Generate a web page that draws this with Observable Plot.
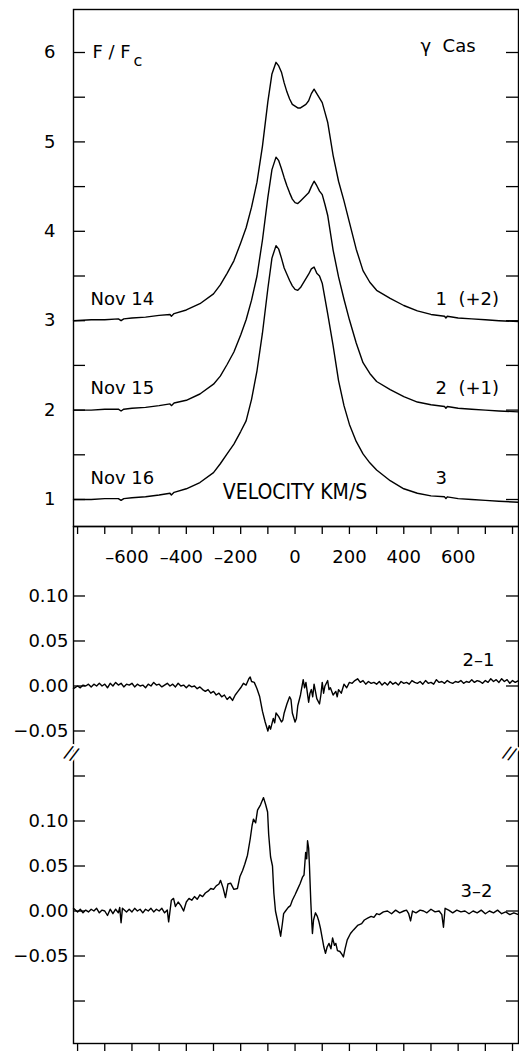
<!DOCTYPE html>
<html>
<head>
<meta charset="utf-8">
<script src="https://cdn.jsdelivr.net/npm/d3@7"></script>
<script src="https://cdn.jsdelivr.net/npm/@observablehq/plot@0.6"></script>
<style>
html, body { margin: 0; padding: 0; background: #fff; }
#wrap { position: relative; width: 519px; height: 1051px; overflow: hidden; background: #fff; }
#top, #bottom { position: absolute; left: 0; }
#top { top: 0; }
#bottom { top: 517px; }
svg { overflow: visible; }
</style>
</head>
<body>
<div id="wrap"><div id="top"></div><div id="bottom"></div></div>
<script>
// ---------- data ----------
const velocity = [-815,-750,-700,-650,-640,-630,-600,-550,-500,-460,
  -455,-445,-400,-350,-300,-275,-250,-225,-200,-180,
  -160,-140,-120,-100,-85,-70,-60,-50,-40,-30,
  -20,-10,0,10,20,30,40,50,60,70,
  80,90,100,110,120,140,160,180,200,225,
  250,275,300,350,400,450,500,550,555,560,
  600,650,700,750,822];

const nov14 = [1.00,1.01,1.01,1.02,1.00,1.02,1.03,1.04,1.06,1.07,
  1.05,1.08,1.12,1.19,1.30,1.40,1.53,1.67,1.87,2.04,
  2.27,2.55,2.95,3.45,3.76,3.89,3.85,3.78,3.66,3.56,
  3.48,3.42,3.40,3.38,3.38,3.40,3.42,3.46,3.54,3.59,
  3.54,3.49,3.44,3.33,3.22,2.85,2.56,2.34,2.10,1.80,
  1.56,1.43,1.34,1.25,1.17,1.11,1.07,1.05,1.03,1.05,
  1.03,1.02,1.01,1.00,0.99];

const nov15 = [1.00,1.00,1.01,1.01,0.99,1.01,1.02,1.03,1.05,1.07,
  1.05,1.08,1.11,1.18,1.29,1.38,1.51,1.65,1.84,2.01,
  2.23,2.50,2.90,3.38,3.69,3.83,3.79,3.70,3.60,3.51,
  3.43,3.36,3.32,3.31,3.34,3.37,3.40,3.43,3.50,3.56,
  3.51,3.45,3.41,3.30,3.18,2.79,2.49,2.24,2.01,1.75,
  1.53,1.41,1.32,1.23,1.15,1.09,1.06,1.04,1.02,1.04,
  1.02,1.01,1.00,0.99,0.98];

const nov16 = [1.00,1.00,1.01,1.01,0.99,1.01,1.02,1.03,1.05,1.07,
  1.05,1.08,1.12,1.19,1.30,1.40,1.51,1.62,1.76,1.88,
  2.12,2.44,2.86,3.36,3.70,3.84,3.80,3.70,3.59,3.52,
  3.45,3.39,3.35,3.34,3.37,3.42,3.47,3.52,3.58,3.60,
  3.53,3.50,3.42,3.25,3.08,2.72,2.33,2.05,1.84,1.65,
  1.51,1.41,1.33,1.21,1.12,1.07,1.04,1.03,1.01,1.03,
  1.01,1.00,0.99,0.98,0.97];

const profileNames = ["Nov 14", "Nov 15", "Nov 16"];
const profileTags = ["1  (+2)", "2  (+1)", "3"];
const profileOffsets = [2, 1, 0];

// difference spectra [velocity, ΔF/Fc]
const diff21 = [[-815,-0.003],[-800,0.000],[-790,-0.002],[-780,0.001],[-770,0.000],[-760,0.002],[-750,-0.001],[-740,0.002],[-730,0.000],[-720,0.003],
  [-710,0.000],[-700,0.002],[-690,-0.002],[-680,0.003],[-670,0.000],[-660,0.004],[-650,0.001],[-640,0.003],[-630,-0.001],[-620,0.002],
  [-610,0.001],[-600,0.003],[-590,-0.001],[-580,0.002],[-570,0.000],[-560,0.001],[-550,-0.002],[-540,0.002],[-530,0.000],[-520,0.004],
  [-510,0.001],[-500,0.002],[-490,-0.001],[-480,0.001],[-470,0.003],[-460,0.000],[-450,0.002],[-440,-0.001],[-430,0.003],[-420,0.000],
  [-410,0.001],[-400,-0.002],[-390,0.001],[-380,-0.001],[-370,0.000],[-360,-0.003],[-350,-0.001],[-340,-0.004],[-330,-0.006],[-320,-0.004],
  [-310,-0.008],[-300,-0.006],[-290,-0.010],[-280,-0.008],[-270,-0.012],[-260,-0.010],[-250,-0.015],[-240,-0.012],[-230,-0.016],[-220,-0.010],
  [-210,-0.006],[-200,-0.002],[-190,0.003],[-180,0.001],[-170,0.008],[-165,0.010],[-160,0.005],[-150,0.004],[-140,-0.003],[-130,-0.012],
  [-120,-0.028],[-110,-0.040],[-100,-0.050],[-95,-0.044],[-90,-0.048],[-80,-0.036],[-75,-0.041],[-70,-0.030],[-60,-0.034],[-50,-0.040],
  [-45,-0.038],[-40,-0.030],[-30,-0.020],[-20,-0.012],[-15,-0.015],[-10,-0.030],[0,-0.040],[5,-0.036],[10,-0.022],[20,-0.010],
  [30,0.007],[35,-0.002],[40,0.004],[50,-0.018],[55,-0.008],[60,-0.004],[65,-0.012],[70,0.002],[75,-0.006],[80,-0.014],
  [90,-0.020],[95,-0.010],[100,0.004],[105,-0.008],[110,0.000],[120,0.006],[125,-0.004],[130,-0.002],[140,-0.010],[150,-0.006],
  [155,-0.012],[160,-0.004],[170,-0.008],[180,0.002],[190,-0.002],[200,0.004],[210,0.003],[220,0.006],[230,0.008],[240,0.004],
  [250,0.006],[260,0.002],[270,0.005],[280,0.003],[290,0.004],[300,0.002],[310,0.005],[320,0.001],[330,0.004],[340,0.001],
  [350,0.005],[360,0.002],[370,0.004],[380,0.001],[390,0.005],[400,0.003],[410,0.004],[420,0.002],[430,0.006],[440,0.004],
  [450,0.003],[460,0.005],[470,0.002],[480,0.006],[490,0.003],[500,0.004],[510,0.002],[520,0.007],[530,0.004],[540,0.005],
  [550,0.003],[560,0.006],[570,0.004],[580,0.003],[590,0.005],[600,0.004],[610,0.006],[620,0.003],[630,0.005],[640,0.004],
  [650,0.007],[660,0.004],[670,0.006],[680,0.005],[690,0.003],[700,0.006],[710,0.004],[720,0.008],[730,0.005],[740,0.007],
  [750,0.004],[760,0.008],[770,0.005],[780,0.007],[790,0.003],[800,0.006],[810,0.004],[822,0.006]];

const diff32 = [[-815,0.003],[-800,-0.001],[-790,0.002],[-780,-0.002],[-770,0.001],[-760,-0.001],[-750,0.002],[-740,0.000],[-730,0.003],[-720,-0.002],
  [-710,0.001],[-700,0.000],[-690,-0.005],[-680,0.002],[-670,-0.003],[-660,0.002],[-650,-0.002],[-645,0.004],[-640,-0.013],[-635,0.003],
  [-620,-0.001],[-610,0.002],[-600,-0.001],[-590,0.003],[-580,0.000],[-570,0.002],[-560,-0.002],[-550,0.002],[-540,0.000],[-530,0.003],
  [-520,-0.001],[-510,0.002],[-500,0.000],[-490,0.003],[-480,-0.002],[-470,0.001],[-465,-0.012],[-455,0.012],[-447,0.014],[-440,0.005],
  [-430,0.010],[-420,0.006],[-410,0.000],[-400,0.010],[-390,0.014],[-380,0.012],[-370,0.016],[-360,0.013],[-350,0.018],[-340,0.016],
  [-330,0.020],[-320,0.022],[-310,0.025],[-300,0.024],[-290,0.028],[-280,0.030],[-274,0.034],[-265,0.026],[-256,0.015],[-247,0.030],
  [-237,0.031],[-225,0.024],[-212,0.025],[-203,0.038],[-193,0.045],[-185,0.052],[-175,0.062],[-165,0.080],[-158,0.095],[-153,0.102],
  [-145,0.098],[-138,0.112],[-127,0.118],[-116,0.126],[-108,0.118],[-101,0.110],[-97,0.085],[-90,0.060],[-83,0.050],[-78,0.020],
  [-72,0.000],[-65,-0.010],[-58,-0.020],[-53,-0.028],[-47,-0.015],[-42,-0.003],[-35,0.000],[-25,0.004],[-17,0.006],[-10,0.012],
  [0,0.018],[9,0.024],[18,0.030],[28,0.038],[33,0.040],[39,0.065],[43,0.058],[46,0.078],[50,0.070],[53,0.050],
  [58,0.010],[62,-0.015],[64,-0.025],[68,-0.010],[75,-0.002],[82,-0.006],[88,-0.012],[94,-0.020],[100,-0.030],[106,-0.040],
  [112,-0.047],[118,-0.040],[125,-0.036],[132,-0.042],[138,-0.030],[145,-0.038],[150,-0.036],[156,-0.044],[165,-0.045],[172,-0.048],
  [178,-0.051],[184,-0.042],[192,-0.032],[204,-0.025],[215,-0.021],[230,-0.016],[245,-0.014],[255,-0.010],[267,-0.008],[280,-0.006],
  [290,-0.007],[300,-0.003],[310,-0.004],[325,-0.001],[340,0.000],[355,-0.003],[370,0.001],[385,-0.002],[400,0.000],[410,0.001],
  [418,-0.003],[425,-0.011],[432,0.000],[445,-0.002],[460,0.001],[473,0.000],[485,-0.002],[500,0.002],[515,-0.001],[530,0.000],
  [540,-0.004],[546,-0.018],[552,0.003],[565,0.001],[580,-0.002],[595,0.001],[610,-0.001],[625,0.000],[640,-0.003],[655,0.000],
  [670,-0.002],[685,0.001],[700,-0.003],[715,0.000],[730,-0.002],[745,0.001],[760,-0.003],[775,-0.001],[790,-0.004],[805,-0.002],[822,-0.004]];

const diffNames = ["2–1", "3–2"];

// axes / ticks
const xDomain = [-815, 822];
const xTicks = [-800,-700,-600,-500,-400,-300,-200,-100,0,100,200,300,400,500,600,700,800];
const xLabels = [-600,-400,-200,0,200,400,600];
const topYDomain = [0.698, 6.481];
const topYTicks = [1,1.5,2,2.5,3,3.5,4,4.5,5,5.5,6];
const topYLabels = [1,2,3,4,5,6];
const diffLabelTicks = [0.10, 0.05, 0.00, -0.05];
const lowerExtraTicks = [0.15, -0.10];
const upperShift = 0.25;          // broken axis: 2-1 panel drawn 0.25 above 3-2
const bottomYDomain = [-0.1472, 0.4272];

// ---------- layout ----------
const W = 519, ML = 73, MR = 1;
const frameW = W - ML - MR;
const font = "'DejaVu Sans', Verdana, sans-serif";
const FS = 18;

// ---------- top panel ----------
const profiles = [nov14, nov15, nov16];
const profileRows = [];
profiles.forEach((vals, i) => vals.forEach((f, j) =>
  profileRows.push({v: velocity[j], f: f + profileOffsets[i], s: profileNames[i]})));
const labelRows = profileNames.map((n, i) => ({name: n, tag: profileTags[i], level: 1 + profileOffsets[i]}));
const yMax = topYLabels[topYLabels.length - 1];

const topH = 527, topMT = 9, topMB = 1;
const topPlot = Plot.plot({
  width: W, height: topH, marginLeft: ML, marginRight: MR, marginTop: topMT, marginBottom: topMB,
  x: {domain: xDomain, axis: null},
  y: {domain: topYDomain, axis: null},
  style: {fontFamily: font, fontSize: FS + "px", background: "transparent", overflow: "visible", color: "black"},
  marks: [
    Plot.frame({stroke: "black", strokeWidth: 1.4}),
    Plot.tickY(topYTicks, {y: d => d, insetRight: frameW - 12, stroke: "black", strokeWidth: 1.3}),
    Plot.tickY(topYTicks, {y: d => d, insetLeft: frameW - 12, stroke: "black", strokeWidth: 1.3}),
    Plot.line(profileRows, {x: "v", y: "f", z: "s", stroke: "black", strokeWidth: 1.4}),
    Plot.text(topYLabels, {y: d => d, frameAnchor: "left", textAnchor: "end", dx: -18, text: d => String(d), fontSize: FS}),
    Plot.text(["F / F"], {y: () => yMax, frameAnchor: "left", textAnchor: "start", dx: 19, fontSize: FS}),
    Plot.text(["c"], {y: () => yMax, frameAnchor: "left", textAnchor: "start", dx: 60, dy: 8, fontSize: 16}),
    Plot.text(["γ  Cas"], {frameAnchor: "top-right", textAnchor: "start", dx: -98, dy: 30, fontSize: FS}),
    Plot.text(labelRows, {y: "level", text: "name", frameAnchor: "left", textAnchor: "start", dx: 17, dy: -21.5, fontSize: FS}),
    Plot.text(labelRows, {y: "level", text: "tag", frameAnchor: "right", textAnchor: "start", dx: -83, dy: -21.5, fontSize: FS}),
    Plot.text(["VELOCITY KM/S"], {x: () => 0, frameAnchor: "bottom", textAnchor: "middle", dy: -28,
      fontSize: 21, fontFamily: "'Liberation Sans Narrow', 'DejaVu Sans Condensed', sans-serif", fontWeight: 300})
  ]
});
document.getElementById("top").appendChild(topPlot);

// ---------- bottom panel ----------
const diffRows = [
  ...diff21.map(([v, d]) => ({v, y: d + upperShift, s: diffNames[0]})),
  ...diff32.map(([v, d]) => ({v, y: d, s: diffNames[1]}))
];
const upperTicks = diffLabelTicks.map(d => ({pos: d + upperShift, val: d}));
const lowerTicks = diffLabelTicks.map(d => ({pos: d, val: d}));
const allDiffTicks = [...upperTicks.map(d => d.pos), ...lowerTicks.map(d => d.pos), ...lowerExtraTicks];
const breakLevel = (Math.min(...diffLabelTicks) + upperShift + Math.max(...lowerExtraTicks)) / 2;
const fmtY = d => (d < 0 ? "−" : "") + Math.abs(d).toFixed(2);
const fmtX = d => (d < 0 ? "–" : "") + Math.abs(d);

const botH = 534, botMT = 9, botMB = 8;
const frameH = botH - botMT - botMB;
const bottomPlot = Plot.plot({
  width: W, height: botH, marginLeft: ML, marginRight: MR, marginTop: botMT, marginBottom: botMB,
  x: {domain: xDomain, axis: null},
  y: {domain: bottomYDomain, axis: null},
  style: {fontFamily: font, fontSize: FS + "px", background: "transparent", overflow: "visible", color: "black"},
  marks: [
    Plot.frame({stroke: "black", strokeWidth: 1.4}),
    Plot.tickY(allDiffTicks, {y: d => d, insetRight: frameW - 12, stroke: "black", strokeWidth: 1.3}),
    Plot.tickY(allDiffTicks, {y: d => d, insetLeft: frameW - 12, stroke: "black", strokeWidth: 1.3}),
    Plot.tickX(xTicks, {x: d => d, insetBottom: frameH - 8, stroke: "black", strokeWidth: 1.3}),
    Plot.tickX(xTicks, {x: d => d, insetTop: frameH, insetBottom: -8, stroke: "black", strokeWidth: 1.3}),
    Plot.line(diffRows, {x: "v", y: "y", z: "s", stroke: "black", strokeWidth: 1.4}),
    Plot.text(xLabels.filter(d => d >= 0), {x: d => d, frameAnchor: "top", dy: 24, text: fmtX, fontSize: FS}),
    Plot.text(xLabels.filter(d => d < 0), {x: d => d, frameAnchor: "top", dy: 24, dx: -5, text: fmtX, fontSize: FS}),
    Plot.text([...upperTicks, ...lowerTicks], {y: "pos", text: d => fmtY(d.val), frameAnchor: "left", textAnchor: "end", dx: -5, fontSize: FS}),
    Plot.text([diffNames[0]], {y: () => upperShift, frameAnchor: "right", textAnchor: "start", dx: -56, dy: -26, fontSize: FS}),
    Plot.text([diffNames[1]], {y: () => 0, frameAnchor: "right", textAnchor: "start", dx: -58, dy: -20, fontSize: FS}),
    Plot.text(["//"], {frameAnchor: "left", y: () => breakLevel, textAnchor: "middle", dx: -2, rotate: 20, fontSize: 18,
      fill: "black", stroke: "white", strokeWidth: 4}),
    Plot.text(["//"], {frameAnchor: "right", y: () => breakLevel, textAnchor: "middle", dx: -9, rotate: 20, fontSize: 17,
      fill: "black", stroke: "white", strokeWidth: 4})
  ]
});
document.getElementById("bottom").appendChild(bottomPlot);
</script>
</body>
</html>
